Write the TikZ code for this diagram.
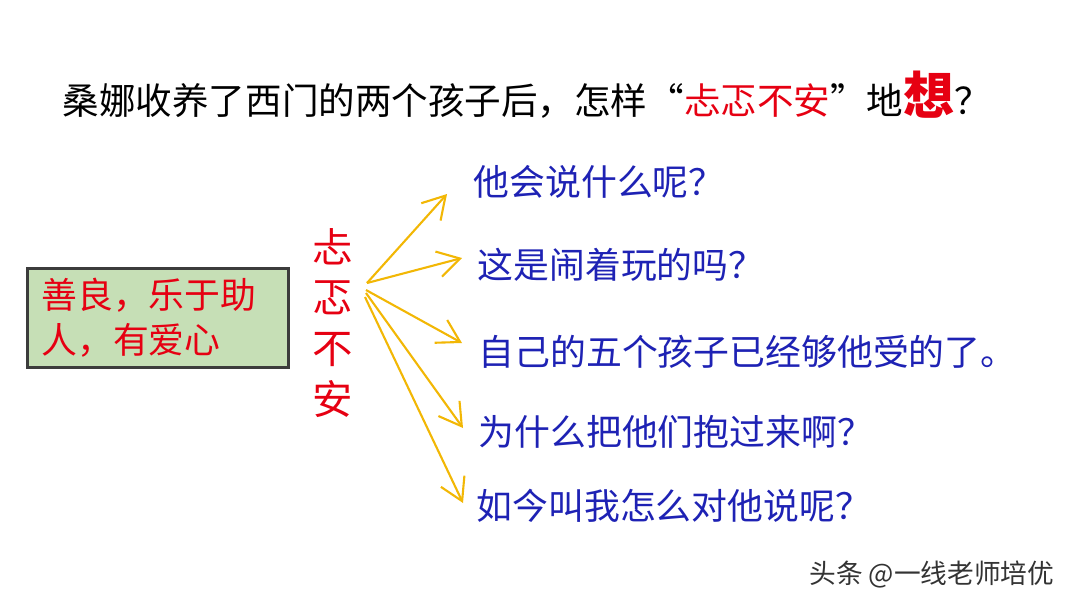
\documentclass[tikz,border=0pt]{standalone}
\usepackage{fontspec}
\newfontfamily\cjk{Noto Sans CJK SC}
\usepackage{tikz}
\usetikzlibrary{arrows.meta}

\definecolor{boxgreen}{HTML}{C6DFB6}
\definecolor{boxline}{HTML}{3C3C3C}
\definecolor{redtxt}{HTML}{E60012}
\definecolor{bluetxt}{HTML}{1E22B4}
\definecolor{arrowgold}{HTML}{F2B705}

\tikzset{
  question/.style={anchor=west,inner sep=0pt,text=bluetxt,font=\cjk\fontsize{10.2}{12}\selectfont},
  thought/.style={draw=arrowgold,line width=0.6pt,-{Straight Barb[length=2.2mm,width=2.6mm]}},
}

\begin{document}
\begin{tikzpicture}
            \useasboundingbox (0,0) rectangle (10.8,6.08);

            \node[anchor=west,inner sep=0pt,font=\cjk\fontsize{10.4}{12}\selectfont] (title) at (0.62,5.13)
              {桑娜收养了西门的两个孩子后，怎样“\textcolor{redtxt}{忐忑不安}”地\textcolor{redtxt}{\fontsize{14.5}{16}\selectfont\bfseries 想}？};

            \node[draw=boxline,line width=0.8pt,fill=boxgreen,anchor=north west,minimum width=2.61cm,minimum height=0.99cm,
                  text width=2.33cm,inner xsep=0.14cm,inner ysep=0pt,align=left,text=redtxt,
                  font=\cjk\fontsize{10.2}{12.8}\selectfont] (trait) at (0.26,3.41)
              {善良，乐于助\\人，有爱心};

            \node[text=redtxt,align=center,inner sep=0pt,font=\cjk\fontsize{11.5}{14.5}\selectfont] (mood) at (3.33,2.85)
              {忐\\忑\\不\\安};

            \node[question] (q1) at (4.73,4.26) {他会说什么呢？};
            \node[question] (q2) at (4.77,3.43) {这是闹着玩的吗？};
            \node[question] (q3) at (4.78,2.56) {自己的五个孩子已经够他受的了。};
            \node[question] (q4) at (4.78,1.76) {为什么把他们抱过来啊？};
            \node[question] (q5) at (4.76,1.02) {如今叫我怎么对他说呢？};

            \coordinate (s1) at (3.67,3.25);
            \coordinate (s2) at (3.66,3.18);
            \coordinate (s3) at (3.66,3.15);
            \coordinate (s4) at (3.65,3.11);

            \draw[thought] (s1) -- (4.47,4.14);
            \draw[thought] (s1) -- (4.62,3.50);
            \draw[thought] (s2) -- (4.62,2.65);
            \draw[thought] (s3) -- (4.63,1.80);
            \draw[thought] (s4) -- (4.63,1.05);

            \node[anchor=east,inner sep=0pt,text=black!80,font=\cjk\fontsize{7.6}{9}\selectfont] (mark) at (10.55,0.33)
              {头条 @一线老师培优};
\end{tikzpicture}
\end{document}
